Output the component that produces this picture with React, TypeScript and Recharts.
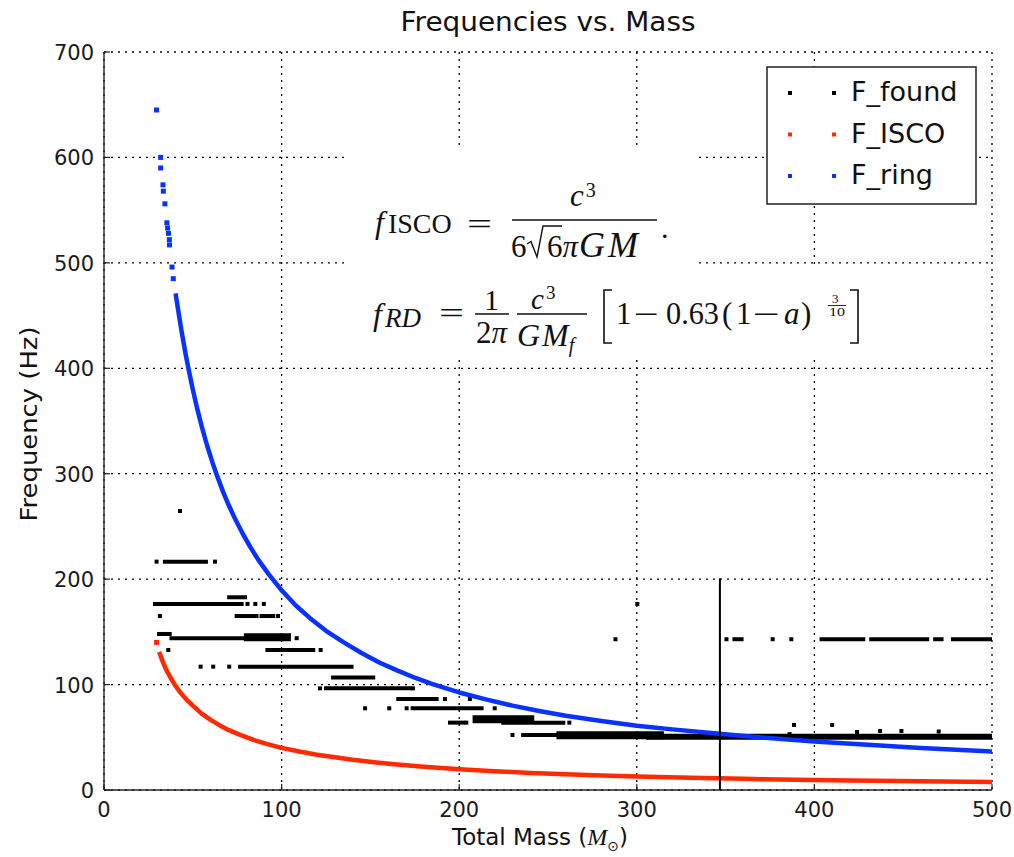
import React from 'react';
import { ScatterChart, Scatter, XAxis, YAxis, CartesianGrid } from 'recharts';

// ---------- data ----------
const massTicks = [0, 100, 200, 300, 400, 500];
const freqTicks = [0, 100, 200, 300, 400, 500, 600, 700];

// F_ISCO (red): isolated first point, then the dense curve  [mass, freq]
const iscoSparse: [number, number][] = [[29.6, 140]];
const iscoDense: [number, number][] = [
  [31.5, 129], [33, 122], [34.5, 116], [36, 111], [38, 105], [40, 99.5], [42.5, 93.5],
  [45, 88.5], [47.5, 84], [50, 80], [55, 72.5], [60, 66.5], [65, 61.5], [70, 57],
  [77, 52], [85, 47], [92, 43.5], [100, 40], [110, 36.5], [120, 33.5], [130, 31],
  [140, 28.7], [152, 26.4], [165, 24.2], [180, 22], [200, 19.7], [220, 17.8],
  [240, 16.2], [260, 14.9], [280, 13.8], [300, 12.8], [330, 11.6], [360, 10.6],
  [390, 9.7], [420, 9], [460, 8.2], [500, 7.5],
];

// F_ring (blue): sparse dots at low mass, then the dense curve  [mass, freq]
const ringSparse: [number, number][] = [
  [29.6, 645], [31.9, 600], [31.9, 590], [33.2, 574], [33.4, 568], [34.3, 556],
  [35.4, 538], [35.8, 533], [36.3, 528], [36.8, 522], [36.9, 517], [38.3, 496], [39, 485],
];
const ringDense: [number, number][] = [
  [40.5, 469], [42, 452.5], [44, 432], [46, 413], [48, 396], [50, 380], [52.5, 361.5],
  [55, 345], [58, 327], [61, 311], [64, 296.5], [67, 283], [70, 271], [74, 256.5],
  [78, 243.5], [82, 231.5], [87, 218], [93, 204], [100, 189.5], [108, 175], [116, 163],
  [125, 151], [135, 140], [145, 130], [155, 121], [165, 113.5], [175, 106.5],
  [185, 100.5], [200, 92.5], [215, 86], [230, 80], [245, 75], [260, 70.5], [280, 65.5],
  [300, 61], [320, 57.5], [345, 53.7], [370, 49.8], [400, 46], [430, 43], [460, 39.8],
  [500, 36.5],
];

// F_found (black): runs of dots at one frequency  [freq, massFrom, massTo]
const foundRuns: [number, number, number][] = [
  [216.6, 34.3, 57.4], [182.8, 70.5, 79.4], [176.5, 28.7, 77.5], [165, 74.7, 85.9],
  [165, 88.7, 95.3], [148, 31, 37], [144, 38, 102.8], [132.8, 92, 117.8],
  [117, 76.6, 139.4], [106.6, 129, 151.6], [96.4, 125, 172.3], [86.3, 165.7, 187.3],
  [77.5, 173.8, 212.6], [63.9, 194.8, 202.3], [63.9, 224.8, 258.6], [52.2, 236, 313],
  [143, 355, 359], [143, 404, 427.5], [143, 432, 463.5], [143, 468, 471.6], [143, 478, 500],
];
// F_found dense blocks  [freq, massFrom, massTo]
const foundBlocks: [number, number, number][] = [
  [145, 81, 103], [67, 209.8, 240], [52, 257, 313],
];
// F_found long band at the bottom right  [freq, massFrom, massTo]
const foundBand: [number, number, number][] = [[50.6, 307, 500]];
// F_found single dots  [mass, freq]
const foundDots: [number, number][] = [
  [42.8, 264.6], [29.6, 216.6], [62.5, 216.6], [80.8, 176.5], [85.2, 176.5], [90, 176.5],
  [31.5, 165], [98, 165], [108.5, 144], [36.2, 132.8], [122, 132.8], [54.4, 117],
  [61.5, 117], [70.5, 117], [121.6, 96.4], [174, 96.4], [192, 86.3], [206, 86.3],
  [147, 77.5], [160.6, 77.5], [170.4, 77.5], [220, 77.5], [204, 63.9], [262, 63.9],
  [230, 52.2], [288, 143], [300.3, 176.5], [350.5, 143], [376.5, 143], [387, 143],
  [388.5, 61.7], [410, 61.7], [386, 53], [424, 55], [437, 56], [449, 56], [470, 55.5],
];
// F_found vertical run at one mass  [mass, freq]
const foundVertical: [number, number][] = [[346.8, 0], [346.8, 200.8]];

const legendItems = ['F_found', 'F_ISCO', 'F_ring'];
const legendColors = ['#000000', '#ff2a00', '#0a32ff'];

// ---------- helpers ----------
const toPts = (arr: [number, number][]) => arr.map(([m, f]) => ({ m, f }));
const runPts = (r: [number, number, number]) => [
  { m: r[1], f: r[0] },
  { m: r[2], f: r[0] },
];

const square = (color: string, s: number) => (props: any) => {
  const { cx, cy } = props;
  if (cx == null || cy == null) return <g />;
  return <rect x={cx - s / 2} y={cy - s / 2} width={s} height={s} fill={color} />;
};
const noShape = () => <g />;

const SANS = 'DejaVu Sans';
const SERIF = 'Liberation Serif';
const TICK_FS = 21;

const BottomTick = (p: any) => (
  <g>
    <line x1={p.x} x2={p.x} y1={p.y} y2={p.y - 6} stroke="#222" strokeWidth={1.2} />
    <text x={p.x} y={p.y + 27} textAnchor="middle" fontFamily={SANS} fontSize={TICK_FS} fill="#1a1a1a">
      {p.payload.value}
    </text>
  </g>
);
const TopTick = (p: any) => (
  <line x1={p.x} x2={p.x} y1={p.y} y2={p.y + 6} stroke="#222" strokeWidth={1.2} />
);
const LeftTick = (p: any) => (
  <g>
    <line x1={p.x} x2={p.x + 6} y1={p.y} y2={p.y} stroke="#222" strokeWidth={1.2} />
    <text x={p.x - 10} y={p.y + 8} textAnchor="end" fontFamily={SANS} fontSize={TICK_FS} fill="#1a1a1a">
      {p.payload.value}
    </text>
  </g>
);
const RightTick = (p: any) => (
  <line x1={p.x} x2={p.x - 6} y1={p.y} y2={p.y} stroke="#222" strokeWidth={1.2} />
);

const Overlay = () => {
  const ink = '#111';
  return (
    <svg
      width={1014}
      height={857}
      style={{ position: 'absolute', left: 0, top: 0, pointerEvents: 'none' }}
    >
      {/* title & axis labels */}
      <text x={548} y={31} textAnchor="middle" fontFamily={SANS} fontSize={26} fill="#111" textLength={295} lengthAdjust="spacingAndGlyphs">
        Frequencies vs. Mass
      </text>
      <text transform="translate(37,424) rotate(-90)" textAnchor="middle" fontFamily={SANS} fontSize={23} fill="#111" textLength={195} lengthAdjust="spacingAndGlyphs">
        Frequency (Hz)
      </text>
      <text x={452} y={845} fontFamily={SANS} fontSize={23} fill="#111">
        Total Mass (
        <tspan fontFamily={SERIF} fontStyle="italic" fontSize={24}>M</tspan>
        <tspan fontSize={14} dy={6}>⊙</tspan>
        <tspan dy={-6}>)</tspan>
      </text>

      {/* white backgrounds of the formula images */}
      <rect x={348} y={148} width={350} height={118} fill="#fff" />
      <rect x={348} y={266} width={524} height={91} fill="#fff" />

      {/* formula 1 */}
      <g fontFamily={SERIF} fill={ink}>
        <text x={375} y={233} fontSize={32} fontStyle="italic">
          f<tspan fontStyle="normal" fontSize={28} dx={4}>ISCO</tspan>
        </text>
        <text x={467} y={234} fontSize={30} textLength={25} lengthAdjust="spacingAndGlyphs">=</text>
        <line x1={512} x2={657} y1={220} y2={220} stroke={ink} strokeWidth={1.4} />
        <text x={570} y={206} fontSize={31} fontStyle="italic">
          c<tspan fontStyle="normal" fontSize={20} dx={2} dy={-9}>3</tspan>
        </text>
        <text x={511} y={257} fontSize={31}>6</text>
        <path d="M527,244 L531,241.5 L537,257 L543,226 L562,226" fill="none" stroke={ink} strokeWidth={1.4} />
        <text x={547} y={257} fontSize={31}>
          6<tspan fontStyle="italic">π</tspan>
          <tspan fontStyle="italic" fontSize={36} dx="1 3">GM</tspan>
        </text>
        <text x={661} y={238} fontSize={30}>.</text>
      </g>

      {/* formula 2 */}
      <g fontFamily={SERIF} fill={ink}>
        <text x={373} y={325} fontSize={32} fontStyle="italic">
          f<tspan fontSize={27} dx={3} dy={2}>RD</tspan>
        </text>
        <text x={439} y={323} fontSize={30} textLength={25} lengthAdjust="spacingAndGlyphs">=</text>
        <text x={484} y={310} fontSize={30}>1</text>
        <line x1={475} x2={509} y1={314} y2={314} stroke={ink} strokeWidth={1.4} />
        <text x={476} y={343} fontSize={31}>
          2<tspan fontStyle="italic">π</tspan>
        </text>
        <text x={531} y={309} fontSize={29} fontStyle="italic">
          c<tspan fontStyle="normal" fontSize={19} dx={2} dy={-10}>3</tspan>
        </text>
        <line x1={517} x2={587} y1={314} y2={314} stroke={ink} strokeWidth={1.4} />
        <text x={517} y={346} fontSize={32} fontStyle="italic">
          G<tspan dx={2}>M</tspan>
          <tspan fontSize={20} dy={6}>f</tspan>
        </text>
        <path d="M612,290 H604 V343 H612" fill="none" stroke={ink} strokeWidth={1.6} />
        <text x={616} y={324} fontSize={31}>1</text>
        <text x={634} y={324} fontSize={30} textLength={25} lengthAdjust="spacingAndGlyphs">−</text>
        <text x={666} y={324} fontSize={31} textLength={53} lengthAdjust="spacingAndGlyphs">0.63</text>
        <text x={722} y={324} fontSize={31}>(</text>
        <text x={736} y={324} fontSize={31}>1</text>
        <text x={753} y={324} fontSize={30} textLength={27} lengthAdjust="spacingAndGlyphs">−</text>
        <text x={784} y={324} fontSize={31} fontStyle="italic">a</text>
        <text x={801} y={324} fontSize={31}>)</text>
        <text x={832} y={303} fontSize={13}>3</text>
        <line x1={828} x2={846} y1={305.5} y2={305.5} stroke={ink} strokeWidth={0.9} />
        <text x={829} y={316} fontSize={13} textLength={16} lengthAdjust="spacingAndGlyphs">10</text>
        <path d="M850,290 H858 V343 H850" fill="none" stroke={ink} strokeWidth={1.6} />
      </g>

      {/* legend */}
      <rect x={767} y={67} width={209} height={137} fill="#fff" stroke="#222" strokeWidth={1.5} />
      {legendItems.map((name, i) => {
        const cy = 93 + i * 41.5;
        return (
          <g key={name}>
            <rect x={788} y={cy - 2} width={4} height={4} fill={legendColors[i]} />
            <rect x={832} y={cy - 2} width={4} height={4} fill={legendColors[i]} />
            <text x={851} y={cy + 8} fontFamily={SANS} fontSize={27} fill="#111">
              {name}
            </text>
          </g>
        );
      })}
    </svg>
  );
};

export default function App() {
  return (
    <div style={{ position: 'absolute', left: 0, top: 0, width: 1014, height: 857, background: '#fff' }}>
      <ScatterChart width={1014} height={857} margin={{ top: 52, right: 22, bottom: 0, left: 0 }}>
        <CartesianGrid stroke="#000" strokeWidth={1.3} strokeDasharray="2 5" horizontal vertical />
        <XAxis
          type="number"
          dataKey="m"
          domain={[0, 500]}
          ticks={massTicks}
          height={67}
          tickSize={0}
          tickMargin={0}
          tick={BottomTick}
          axisLine={{ stroke: '#222', strokeWidth: 1.4 }}
          tickLine={false}
          allowDataOverflow
        />
        <XAxis
          xAxisId="top"
          orientation="top"
          type="number"
          dataKey="m"
          domain={[0, 500]}
          ticks={massTicks}
          height={0}
          tickSize={0}
          tickMargin={0}
          tick={TopTick}
          axisLine={{ stroke: '#222', strokeWidth: 1.4 }}
          tickLine={false}
          allowDataOverflow
        />
        <YAxis
          type="number"
          dataKey="f"
          domain={[0, 700]}
          ticks={freqTicks}
          width={104}
          tickSize={0}
          tickMargin={0}
          tick={LeftTick}
          axisLine={{ stroke: '#222', strokeWidth: 1.4 }}
          tickLine={false}
          allowDataOverflow
        />
        <YAxis
          yAxisId="right"
          orientation="right"
          type="number"
          dataKey="f"
          domain={[0, 700]}
          ticks={freqTicks}
          width={0}
          tickSize={0}
          tickMargin={0}
          tick={RightTick}
          axisLine={{ stroke: '#222', strokeWidth: 1.4 }}
          tickLine={false}
          allowDataOverflow
        />

        {/* F_found */}
        {foundRuns.map((r, i) => (
          <Scatter
            key={'run' + i}
            data={runPts(r)}
            fill="#000"
            line={{ stroke: '#000', strokeWidth: 4, strokeLinecap: 'square' } as any}
            shape={noShape}
            isAnimationActive={false}
          />
        ))}
        {foundBlocks.map((r, i) => (
          <Scatter
            key={'blk' + i}
            data={runPts(r)}
            fill="#000"
            line={{ stroke: '#000', strokeWidth: 8, strokeLinecap: 'square' } as any}
            shape={noShape}
            isAnimationActive={false}
          />
        ))}
        {foundBand.map((r, i) => (
          <Scatter
            key={'band' + i}
            data={runPts(r)}
            fill="#000"
            line={{ stroke: '#000', strokeWidth: 6, strokeLinecap: 'square' } as any}
            shape={noShape}
            isAnimationActive={false}
          />
        ))}
        <Scatter data={toPts(foundDots)} fill="#000" shape={square('#000', 4)} isAnimationActive={false} />

        {/* F_ISCO */}
        <Scatter data={toPts(iscoSparse)} fill="#ff2a00" shape={square('#ff2a00', 5)} isAnimationActive={false} />
        <Scatter
          data={toPts(iscoDense)}
          fill="#ff2a00"
          line={{ stroke: '#ff2a00', strokeWidth: 4.5, strokeLinecap: 'square', strokeLinejoin: 'round' } as any}
          shape={noShape}
          isAnimationActive={false}
        />

        {/* F_ring */}
        <Scatter data={toPts(ringSparse)} fill="#0a32ff" shape={square('#0a32ff', 5)} isAnimationActive={false} />
        <Scatter
          data={toPts(ringDense)}
          fill="#0a32ff"
          line={{ stroke: '#0a32ff', strokeWidth: 4.5, strokeLinecap: 'square', strokeLinejoin: 'round' } as any}
          shape={noShape}
          isAnimationActive={false}
        />

        {/* vertical run of F_found */}
        <Scatter
          data={toPts(foundVertical)}
          fill="#000"
          line={{ stroke: '#000', strokeWidth: 2 } as any}
          shape={noShape}
          isAnimationActive={false}
        />
      </ScatterChart>
      <Overlay />
    </div>
  );
}
